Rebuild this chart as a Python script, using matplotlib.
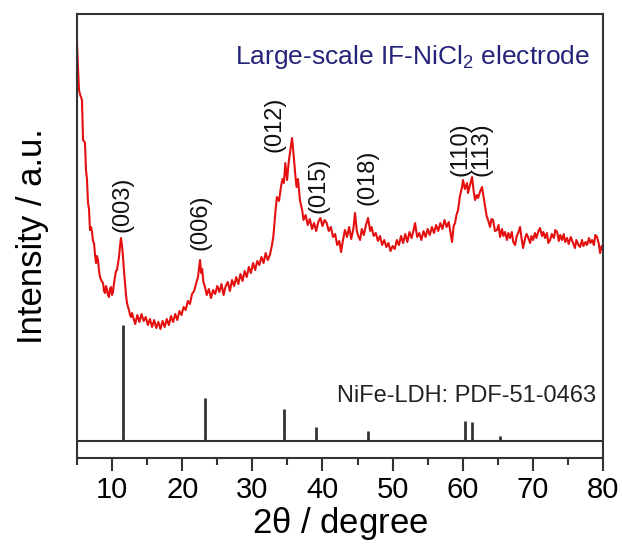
import numpy as np
import matplotlib
matplotlib.use('Agg')
import matplotlib.pyplot as plt

plt.rcParams['font.family'] = ['Liberation Sans', 'DejaVu Sans']
plt.rcParams['mathtext.default'] = 'regular'

# Measured XRD pattern: (2theta / degree, intensity / a.u.)
pattern = [
    (5.00, 398), (5.15, 372), (5.29, 351), (5.45, 346), (5.57, 344), (5.71, 341),
    (5.86, 301), (6.00, 300), (6.14, 298), (6.28, 271), (6.42, 262), (6.57, 238),
    (6.71, 232), (6.85, 211), (7.00, 214), (7.14, 209), (7.28, 200), (7.42, 198),
    (7.57, 186), (7.71, 178), (7.85, 185), (7.99, 181), (8.14, 170), (8.28, 164),
    (8.50, 160), (8.71, 158), (8.85, 150), (8.99, 148), (9.14, 155), (9.28, 151),
    (9.42, 146), (9.56, 144), (9.70, 152), (9.85, 154), (9.99, 146), (10.13, 149),
    (10.28, 158), (10.42, 164), (10.56, 170), (10.70, 171), (10.85, 178), (10.99, 184),
    (11.13, 195), (11.27, 203), (11.42, 195), (11.56, 184), (11.70, 170), (11.84, 158),
    (11.99, 146), (12.13, 138), (12.27, 134), (12.42, 131), (12.56, 126), (12.70, 124),
    (12.85, 128), (13.0, 124), (13.3, 117), (13.6, 126), (13.9, 119), (14.2, 127),
    (14.5, 120), (14.8, 124), (15.1, 116), (15.4, 122), (15.7, 114), (16.0, 121),
    (16.3, 113), (16.6, 119), (16.9, 112), (17.2, 120), (17.5, 114), (17.8, 122),
    (18.1, 116), (18.4, 125), (18.7, 119), (19.0, 127), (19.3, 121), (19.6, 130),
    (19.9, 126), (20.2, 134), (20.5, 131), (20.8, 140), (21.1, 137), (21.4, 147),
    (21.7, 150), (22.0, 158), (22.25, 164), (22.54, 181), (22.7, 168), (22.85, 172),
    (23.0, 160), (23.25, 154), (23.5, 146), (23.8, 152), (24.1, 143), (24.4, 151),
    (24.7, 147), (25.0, 155), (25.3, 149), (25.6, 157), (25.9, 146), (26.2, 155),
    (26.5, 159), (26.8, 150), (27.1, 161), (27.4, 155), (27.7, 164), (28.0, 157),
    (28.3, 167), (28.6, 160), (28.9, 170), (29.2, 164), (29.5, 174), (29.8, 168),
    (30.1, 178), (30.4, 171), (30.7, 180), (31.0, 176), (31.3, 184), (31.6, 178),
    (31.9, 188), (32.2, 181), (32.5, 186), (32.8, 196), (33.0, 205), (33.3, 230),
    (33.5, 244), (33.8, 240), (34.1, 255), (34.3, 262), (34.5, 258), (34.7, 278),
    (34.95, 261), (35.2, 280), (35.4, 290), (35.66, 303), (35.9, 285), (36.1, 268),
    (36.3, 254), (36.5, 262), (36.8, 240), (37.1, 231), (37.3, 221), (37.6, 226),
    (37.9, 216), (38.2, 222), (38.5, 212), (38.8, 218), (39.1, 210), (39.4, 219),
    (39.7, 223), (40.0, 215), (40.3, 221), (40.6, 218), (40.9, 210), (41.2, 214),
    (41.5, 204), (41.8, 207), (42.1, 196), (42.4, 200), (42.65, 189), (42.9, 200),
    (43.2, 211), (43.5, 204), (43.8, 214), (44.1, 202), (44.4, 212), (44.64, 228),
    (44.9, 210), (45.1, 205), (45.36, 201), (45.6, 212), (45.9, 206), (46.2, 216),
    (46.5, 223), (46.8, 210), (47.0, 214), (47.3, 205), (47.6, 208), (47.9, 200),
    (48.2, 205), (48.5, 196), (48.8, 201), (49.1, 194), (49.4, 198), (49.7, 190),
    (50.0, 195), (50.3, 192), (50.6, 201), (50.9, 196), (51.2, 205), (51.5, 198),
    (51.8, 207), (52.1, 199), (52.4, 209), (52.7, 203), (53.0, 211), (53.2, 218),
    (53.5, 204), (53.8, 208), (54.1, 201), (54.4, 210), (54.7, 204), (55.0, 212),
    (55.3, 206), (55.6, 214), (55.9, 208), (56.2, 216), (56.5, 210), (56.8, 218),
    (57.1, 212), (57.4, 221), (57.7, 214), (58.0, 219), (58.25, 208), (58.47, 199),
    (58.7, 215), (58.9, 218), (59.1, 226), (59.33, 231), (59.6, 245), (59.9, 254),
    (60.04, 261), (60.3, 252), (60.61, 258), (60.75, 248), (61.0, 255), (61.33, 264),
    (61.55, 250), (61.75, 241), (62.0, 246), (62.18, 243), (62.5, 250), (62.75, 254),
    (62.95, 245), (63.18, 234), (63.4, 225), (63.61, 221), (63.89, 214), (64.1, 222),
    (64.32, 221), (64.6, 210), (64.89, 211), (65.1, 216), (65.32, 204), (65.6, 212),
    (65.8, 205), (66.03, 209), (66.3, 201), (66.5, 208), (66.74, 203), (67.0, 209),
    (67.2, 199), (67.46, 196), (67.7, 205), (67.9, 208), (68.17, 214), (68.4, 202),
    (68.6, 193), (68.9, 203), (69.1, 207), (69.31, 204), (69.6, 198), (69.8, 205),
    (70.02, 201), (70.3, 208), (70.5, 203), (70.8, 210), (71.02, 213), (71.3, 205),
    (71.5, 209), (71.73, 203), (72.0, 208), (72.2, 198), (72.45, 201), (72.7, 207),
    (73.0, 203), (73.2, 211), (73.45, 209), (73.7, 200), (73.9, 206), (74.16, 201),
    (74.4, 207), (74.6, 199), (74.87, 203), (75.1, 197), (75.4, 204), (75.73, 198),
    (76.0, 193), (76.2, 201), (76.5, 196), (76.73, 194), (77.0, 201), (77.2, 195),
    (77.5, 199), (77.72, 196), (78.0, 203), (78.2, 198), (78.44, 201), (78.7, 196),
    (78.9, 206), (79.15, 204), (79.4, 197), (79.58, 188), (79.8, 195), (80.0, 191),
]

# Reference pattern NiFe-LDH PDF-51-0463
ref_pos = [11.56, 23.25, 34.52, 39.08, 46.50, 60.33, 61.33, 65.32]
ref_int = [116, 43, 32, 14, 10, 20, 19, 5]

# Peak indices
hkl = ['(003)', '(006)', '(012)', '(015)', '(018)', '(110)', '(113)']
hkl_x = [11.42, 22.54, 33.23, 39.37, 46.35, 59.62, 62.61]
hkl_y = [209, 191, 289, 228, 236, 265, 265]

two_theta = [p[0] for p in pattern]
intensity = [p[1] for p in pattern]

fig = plt.figure(figsize=(6.22, 5.45), dpi=100)
ax = fig.add_axes([0.1238, 0.1596, 0.8457, 0.8147])

ax.plot(two_theta, intensity, color='#e41010', lw=1.5)
ax.axhline(0, color='#333333', lw=1.5)
ax.vlines(ref_pos, 0, ref_int, color='#333333', lw=2)

for lab, x, y in zip(hkl, hkl_x, hkl_y):
    ax.text(x, y, lab, rotation=90, ha='center', va='bottom', fontsize=17, color='#111111')

ax.text(0.975, 0.903, 'Large-scale IF-NiCl$_2$ electrode', transform=ax.transAxes,
        ha='right', va='center', fontsize=19, color='#24247a')
ax.text(0.987, 0.14, 'NiFe-LDH: PDF-51-0463', transform=ax.transAxes,
        ha='right', va='center', fontsize=17, color='#222222')

ax.set_xlim(5, 80)
ax.set_ylim(-17, 427)
ax.set_xticks(range(10, 81, 10))
ax.set_xticks(range(5, 80, 10), minor=True)
ax.tick_params(axis='x', which='major', direction='out', length=9, width=1.5,
               labelsize=21, pad=4, color='#333333')
ax.tick_params(axis='x', which='minor', direction='out', length=5, width=1.5, color='#333333')
ax.set_yticks([])
for s in ax.spines.values():
    s.set_linewidth(1.5)
    s.set_color('#333333')

ax.set_xlabel('2$\\theta$ / degree', fontsize=25, labelpad=1)
ax.set_ylabel('Intensity / a.u.', fontsize=25, labelpad=20)

fig.savefig('out.png', dpi=100)
